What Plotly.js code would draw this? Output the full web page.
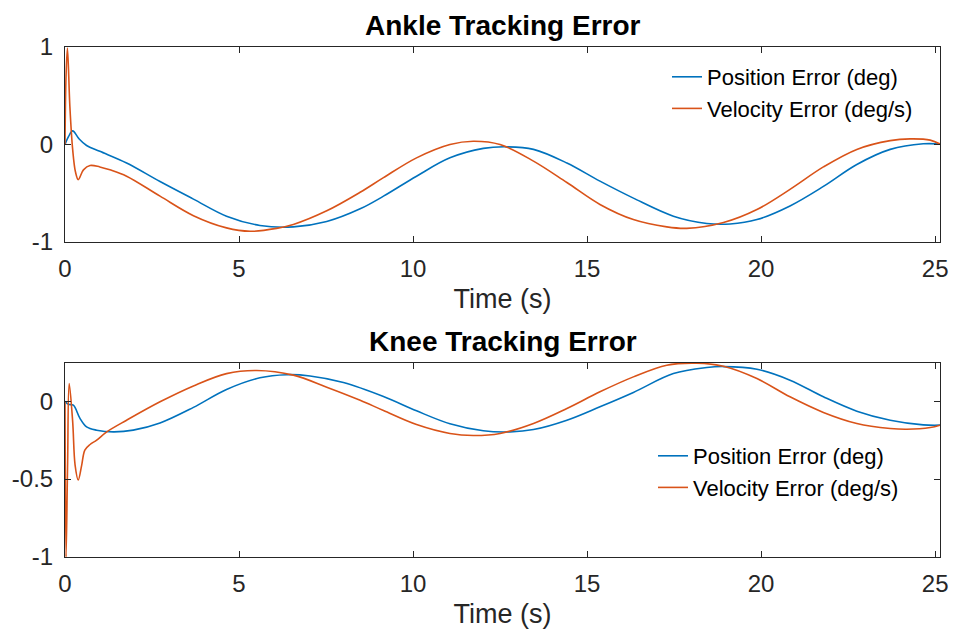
<!DOCTYPE html>
<html>
<head>
<meta charset="utf-8">
<script src="https://cdn.plot.ly/plotly-3.0.1.min.js"></script>
<style>html,body{margin:0;padding:0;background:#fff;}#chart{width:953px;height:638px;}</style>
</head>
<body>
<div id="chart"></div>
<script>
// ---- Data ----
const xTicks = [0, 5, 10, 15, 20, 25];
const ankleYTicks = [-1, 0, 1];
const ankleYTickText = ['-1', '0', '1'];
const kneeYTicks = [-1, -0.5, 0];
const kneeYTickText = ['-1', '-0.5', '0'];
const seriesNames = ['Position Error (deg)', 'Velocity Error (deg/s)'];
const subplotTitles = ['Ankle Tracking Error', 'Knee Tracking Error'];
const xLabel = 'Time (s)';

const anklePosT = [0, 0.1, 0.22, 0.4, 0.62, 1.0, 1.77, 2.73, 3.69, 4.64, 5.6, 6.56, 7.52, 8.48, 9.15, 10.1, 11.06, 12.02, 12.69, 13.46, 14.42, 15.37, 16.33, 17.48, 18.44, 19.11, 19.88, 20.83, 21.79, 22.75, 23.71, 24.66, 25.14];
const anklePos  = [0, 0.08, 0.14, 0.06, -0.01, -0.07, -0.19, -0.38, -0.56, -0.735, -0.83, -0.845, -0.79, -0.66, -0.53, -0.325, -0.137, -0.04, -0.024, -0.05, -0.19, -0.376, -0.55, -0.735, -0.81, -0.815, -0.77, -0.63, -0.43, -0.205, -0.05, 0.007, 0.005];

const ankleVelT = [0, 0.03, 0.07, 0.14, 0.22, 0.3, 0.38, 0.53, 0.72, 1.0, 1.29, 1.77, 2.73, 3.69, 4.64, 5.32, 6.08, 6.56, 7.52, 8.48, 9.15, 10.1, 11.06, 11.73, 12.5, 13.46, 14.42, 15.37, 16.33, 17.29, 17.86, 18.92, 19.88, 20.83, 21.79, 22.75, 23.71, 24.28, 24.86, 25.14];
const ankleVel  = [0, 0.7, 0.99, 0.39, -0.05, -0.28, -0.36, -0.26, -0.215, -0.23, -0.26, -0.325, -0.53, -0.73, -0.855, -0.89, -0.86, -0.82, -0.68, -0.49, -0.34, -0.137, 0, 0.034, 0, -0.17, -0.39, -0.615, -0.77, -0.845, -0.86, -0.80, -0.667, -0.46, -0.23, -0.05, 0.04, 0.058, 0.045, 0.005];

const kneePosT = [0, 0.1, 0.24, 0.43, 0.62, 0.91, 1.39, 1.96, 2.73, 3.69, 4.64, 5.6, 6.37, 7.04, 8.0, 9.15, 10.1, 11.06, 12.02, 12.79, 13.46, 14.42, 15.37, 16.33, 17.48, 18.44, 18.92, 19.88, 20.83, 21.79, 22.75, 23.71, 24.66, 25.14];
const kneePos  = [0, -0.02, -0.026, -0.11, -0.165, -0.186, -0.197, -0.186, -0.14, -0.04, 0.075, 0.15, 0.17, 0.162, 0.12, 0.03, -0.062, -0.145, -0.19, -0.197, -0.182, -0.122, -0.036, 0.056, 0.177, 0.216, 0.222, 0.205, 0.135, 0.028, -0.064, -0.122, -0.152, -0.154];

const kneeVelT = [0, 0.03, 0.075, 0.12, 0.22, 0.29, 0.38, 0.48, 0.57, 0.72, 0.91, 1.2, 1.77, 2.73, 3.69, 4.64, 5.51, 6.56, 7.52, 8.48, 9.15, 10.1, 11.06, 11.73, 12.5, 13.46, 14.42, 15.37, 16.33, 17.29, 18.15, 18.92, 19.88, 20.83, 21.79, 22.75, 23.71, 24.19, 24.86, 25.14];
const kneeVel  = [0, -1.0, -0.4, 0.113, -0.13, -0.41, -0.506, -0.41, -0.314, -0.278, -0.25, -0.197, -0.122, -0.004, 0.098, 0.177, 0.197, 0.167, 0.09, 0.006, -0.06, -0.15, -0.207, -0.22, -0.207, -0.143, -0.047, 0.06, 0.156, 0.231, 0.244, 0.224, 0.145, 0.028, -0.072, -0.143, -0.175, -0.18, -0.169, -0.154];

// ---- Styles ----
const BLUE = '#0072BD', ORANGE = '#D95319', AX = '#262626';
const FONT = 'Liberation Sans, Arial, Helvetica, sans-serif';

function line(x, y, name, color, xa, ya, legend) {
  return {x: x, y: y, name: name, type: 'scatter', mode: 'lines',
    line: {color: color, width: 1.6, shape: 'spline', smoothing: 1},
    xaxis: xa, yaxis: ya, legend: legend, hoverinfo: 'x+y+name'};
}

const data = [
  line(anklePosT, anklePos, seriesNames[0], BLUE, 'x', 'y', 'legend'),
  line(ankleVelT, ankleVel, seriesNames[1], ORANGE, 'x', 'y', 'legend'),
  line(kneePosT, kneePos, seriesNames[0], BLUE, 'x2', 'y2', 'legend2'),
  line(kneeVelT, kneeVel, seriesNames[1], ORANGE, 'x2', 'y2', 'legend2')
];

const xDomain = [65/953, 940/953];
function xAxis(anchor) {
  return {domain: xDomain, anchor: anchor, range: [0, 25.14], tickvals: xTicks,
    ticktext: xTicks.map(String),
    ticks: 'inside', ticklen: 6, tickwidth: 1, tickcolor: AX,
    showline: true, linecolor: AX, linewidth: 1, mirror: 'ticks',
    showgrid: false, zeroline: false, ticklabelstandoff: 5,
    tickfont: {size: 24, color: AX, family: FONT},
    title: {text: xLabel, font: {size: 27, color: AX, family: FONT}, standoff: 8}};
}
function yAxis(anchor, domain, range, vals, text) {
  return {domain: domain, anchor: anchor, range: range, tickvals: vals, ticktext: text,
    ticks: 'inside', ticklen: 6, tickwidth: 1, tickcolor: AX,
    showline: true, linecolor: AX, linewidth: 1, mirror: 'ticks',
    showgrid: false, zeroline: false, ticklabelstandoff: 6,
    tickfont: {size: 24, color: AX, family: FONT}};
}

const legendBase = {xanchor: 'left', yanchor: 'top', bgcolor: 'rgba(0,0,0,0)',
  borderwidth: 0, font: {size: 22, color: '#000', family: FONT}, tracegroupgap: 0};

const layout = {
  width: 953, height: 638,
  margin: {l: 0, r: 0, t: 0, b: 0},
  paper_bgcolor: '#fff', plot_bgcolor: '#fff',
  font: {family: FONT, color: AX},
  showlegend: true,
  xaxis: xAxis('y'),
  yaxis: yAxis('x', [(638-242)/638, (638-47)/638], [-1, 1], ankleYTicks, ankleYTickText),
  xaxis2: xAxis('y2'),
  yaxis2: yAxis('x2', [(638-557)/638, (638-363)/638], [-1, 0.245], kneeYTicks, kneeYTickText),
  legend: Object.assign({}, legendBase, {x: 667/953, y: (638-56)/638}),
  legend2: Object.assign({}, legendBase, {x: 653/953, y: (638-435)/638}),
  annotations: [
    {text: '<b>' + subplotTitles[0] + '</b>', xref: 'paper', yref: 'paper',
     x: 503/953, y: (638-26)/638, xanchor: 'center', yanchor: 'middle', showarrow: false,
     font: {size: 28, color: '#000', family: FONT}},
    {text: '<b>' + subplotTitles[1] + '</b>', xref: 'paper', yref: 'paper',
     x: 503/953, y: (638-341)/638, xanchor: 'center', yanchor: 'middle', showarrow: false,
     font: {size: 28, color: '#000', family: FONT}}
  ]
};

Plotly.newPlot('chart', data, layout, {displayModeBar: false, staticPlot: true});
</script>
</body>
</html>
